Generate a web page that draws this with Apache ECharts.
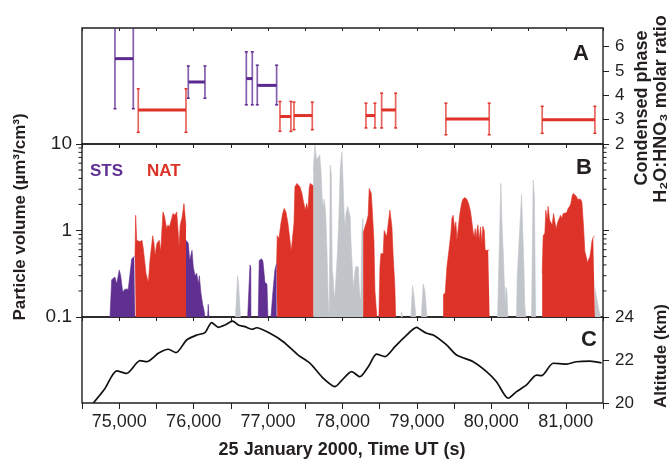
<!DOCTYPE html>
<html lang="en">
<head>
<meta charset="UTF-8">
<title>PSC particle volume, 25 January 2000</title>
<script src="https://cdn.jsdelivr.net/npm/echarts@6/dist/echarts.min.js"></script>
<style>
  html, body { margin: 0; padding: 0; background: #fff; }
  #chart { width: 672px; height: 459px; }
</style>
</head>
<body>
<div id="chart"></div>
<script>
// time axis (s UT)
const timeMin = 74500;
const timeMax = 81500;

// panel A: condensed phase H2O:HNO3 molar ratio
const ratioStart = [74943, 75256, 75928, 76708, 76855, 77160, 77348, 78315, 78526, 79389, 80683];
const ratioEnd   = [75189, 75897, 76152, 76788, 77115, 77307, 77594, 78436, 78714, 79971, 81391];
const ratioMid   = [5.51, 3.40, 4.55, 4.69, 4.41, 3.13, 3.17, 3.17, 3.40, 3.03, 3.00];
const ratioLow   = [3.45, 2.48, 3.88, 3.61, 3.61, 2.52, 2.59, 2.66, 2.66, 2.38, 2.44];
const ratioHigh  = [6.77, 4.27, 5.21, 5.79, 5.24, 3.75, 3.72, 3.68, 4.09, 3.68, 3.55];
const ratioPhase = ['STS', 'NAT', 'STS', 'STS', 'STS', 'NAT', 'NAT', 'NAT', 'NAT', 'NAT', 'NAT'];

// panel B: particle volume [time, um3/cm3], one list per contiguous stretch
const stsVolume = [
  [[74876,0.1],[74899,0.27],[74943,0.29],[74966,0.24],[75001,0.35],[75020,0.30],[75047,0.195],[75078,0.21],[75122,0.21],[75145,0.22],[75168,0.47],[75202,0.50],[75212,0.50]],
  [[75897,0.77],[75928,0.71],[75947,0.45],[75978,0.59],[75995,0.38],[76018,0.30],[76041,0.32],[76062,0.24],[76076,0.30],[76098,0.19],[76121,0.14],[76139,0.12],[76152,0.1]],
  [[76188,0.1],[76196,0.14],[76206,0.1]],
  [[76726,0.1],[76757,0.40],[76768,0.37],[76770,0.1]],
  [[76868,0.1],[76881,0.45],[76913,0.47],[76931,0.44],[76949,0.45],[76958,0.25],[76985,0.24],[76998,0.1]],
  [[77039,0.1],[77066,0.2],[77092,0.35],[77115,0.42]]
];
const natVolume = [
  [[75212,0.5],[75221,1.5],[75235,0.77],[75256,0.81],[75279,0.74],[75306,0.77],[75323,0.62],[75360,0.32],[75391,0.25],[75413,0.45],[75450,0.87],[75467,0.71],[75481,0.52],[75507,0.71],[75538,0.77],[75557,0.57],[75575,1.05],[75588,1.64],[75605,1.5],[75638,1.05],[75655,1.16],[75673,1.09],[75705,1.38],[75722,1.57],[75749,1.5],[75772,1.64],[75789,1.05],[75803,0.65],[75820,1.16],[75847,1.44],[75870,2.05],[75884,2.15],[75897,1.11]],
  [[77115,0.42],[77123,0.87],[77146,0.81],[77173,1.21],[77196,1.57],[77217,1.8],[77240,1.64],[77267,1.21],[77294,0.77],[77311,0.57],[77330,0.84],[77348,1.21],[77361,3.2],[77388,3.5],[77411,3.66],[77428,3.2],[77455,2.68],[77472,2.24],[77486,2.2],[77499,1.72],[77518,2.05],[77536,1.72],[77553,3.1],[77566,3.5],[77589,3.35],[77607,3.3]],
  [[78278,0.93],[78301,1.1],[78324,1.26],[78345,1.5],[78359,3.06],[78368,3.2],[78386,2.68],[78395,2.05],[78413,2.05],[78422,0.77],[78436,0.2],[78453,0.2],[78462,0.1]],
  [[78489,0.1],[78503,0.38],[78516,0.54],[78547,0.54],[78560,1.0],[78579,1.0],[78593,0.84],[78614,1.2],[78637,1.72],[78650,1.64],[78664,1.1],[78681,0.5],[78704,0.22],[78714,0.1]],
  [[79353,0.18],[79380,0.19],[79403,0.38],[79430,0.59],[79456,0.93],[79470,1.38],[79487,1.5],[79506,1.05],[79523,1.26],[79537,0.77],[79554,1.05],[79577,1.57],[79600,2.05],[79617,2.3],[79644,2.4],[79671,2.3],[79698,2.0],[79721,1.64],[79738,1.26],[79756,0.95],[79769,0.84],[79783,1.05],[79796,0.81],[79810,1.05],[79819,1.16],[79836,0.77],[79855,1.1],[79873,0.71],[79886,1.12],[79904,1.0],[79917,0.59],[79957,0.59],[79976,0.59]],
  [[80683,0.32],[80696,0.87],[80719,0.93],[80732,1.72],[80750,1.32],[80763,1.9],[80782,1.32],[80800,1.38],[80817,1.16],[80836,1.57],[80853,1.26],[80871,1.05],[80894,1.26],[80911,1.32],[80930,1.5],[80947,1.38],[80965,1.57],[80988,1.5],[81010,1.6],[81032,1.8],[81051,1.9],[81068,2.05],[81086,2.5],[81099,2.68],[81122,2.6],[81140,2.5],[81158,2.3],[81180,2.24],[81198,2.3],[81216,2.15],[81239,1.1],[81256,0.57],[81274,0.5],[81293,0.42],[81301,0.45],[81324,0.5],[81337,0.59],[81350,0.74],[81368,0.84],[81381,0.87],[81391,0.87]]
];
const otherVolume = [
  [[76562,0.1],[76591,0.30],[76602,0.25],[76629,0.1]],
  [[77607,5.0],[77630,9.7],[77652,6.5],[77670,6.8],[77693,7.5],[77710,5.0],[77728,2.3],[77741,1.9],[77755,2.3],[77773,1.64],[77791,0.59],[77808,0.16],[77822,0.1],[77829,0.1],[77835,5.7],[77849,4.6],[77862,0.35],[77876,0.27],[77889,0.16],[77902,0.2],[77934,0.59],[77952,1.5],[77969,5.0],[77992,8.1],[78005,4.2],[78023,1.44],[78037,1.1],[78046,1.57],[78069,1.9],[78086,1.9],[78104,1.44],[78113,0.77],[78131,0.38],[78144,0.22],[78163,0.22],[78176,0.38],[78194,0.39],[78211,0.38],[78225,0.22],[78238,0.16],[78247,0.17],[78261,1.0],[78274,1.38],[78278,1.1]],
  [[78785,0.1],[78794,0.115],[78805,0.1]],
  [[78919,0.1],[78942,0.23],[78959,0.18],[78986,0.1]],
  [[79060,0.1],[79084,0.24],[79107,0.2],[79134,0.1]],
  [[80083,0.1],[80128,3.5],[80141,1.32],[80159,0.57],[80172,0.55],[80186,0.13],[80195,0.22],[80209,0.2],[80222,0.1]],
  [[80338,0.1],[80347,0.29],[80360,0.29],[80374,0.8],[80387,0.8],[80406,2.6],[80423,2.5],[80437,0.38],[80450,0.13],[80464,0.1]],
  [[80540,0.1],[80562,3.83],[80578,2.5],[80594,0.1]],
  [[81391,0.22],[81418,0.16],[81445,0.12],[81467,0.1]]
];
const volumeMinorTicks = [0.2, 0.3, 0.4, 0.5, 0.6, 0.7, 0.8, 0.9, 2, 3, 4, 5, 6, 7, 8, 9];

// panel C: altitude (km)
const altTime = [74652, 74809, 74966, 75100, 75279, 75369, 75525, 75659, 75763, 75906, 76041, 76152, 76242, 76331, 76421, 76524, 76599, 76689, 76788, 76846, 77025, 77204, 77405, 77562, 77741, 77898, 77990, 78122, 78234, 78346, 78458, 78570, 78704, 78838, 78996, 79040, 79130, 79219, 79398, 79533, 79756, 79935, 80069, 80226, 80338, 80472, 80606, 80674, 80830, 81010, 81144, 81323, 81480];
const altKm   = [20.0, 20.68, 21.49, 21.38, 21.97, 21.92, 22.31, 22.5, 22.34, 22.93, 23.16, 23.27, 23.74, 23.52, 23.63, 23.81, 23.63, 23.55, 23.43, 23.5, 23.24, 22.85, 22.23, 21.85, 21.15, 20.76, 21.05, 21.46, 21.22, 21.69, 22.27, 22.16, 22.62, 23.08, 23.52, 23.43, 23.24, 23.16, 22.7, 22.23, 21.92, 21.46, 20.99, 20.22, 20.53, 20.84, 21.3, 21.27, 21.85, 21.81, 21.92, 21.95, 21.87];

const PURPLE = '#5f2f91';
const RED = '#dd3227';
const GRAY = '#c1c5ca';
const INK = '#231f20';
const FONT = '"Liberation Sans", Arial, "DejaVu Sans", sans-serif';

const chart = echarts.init(document.getElementById('chart'), null, { renderer: 'canvas' });

const gridLeft = 82, gridRight = 69;
const grids = [
  { left: gridLeft, right: gridRight, top: 28, height: 116 },
  { left: gridLeft, right: gridRight, top: 144, height: 173 },
  { left: gridLeft, right: gridRight, top: 317, height: 86 }
].map(g => Object.assign(g, { show: true, borderColor: INK, borderWidth: 1.4, containLabel: false }));

function timeAxis(gridIndex, extra) {
  return Object.assign({
    type: 'value', gridIndex: gridIndex, min: timeMin, max: timeMax, interval: 500,
    axisLine: { show: false },
    splitLine: { show: false },
    axisTick: { length: 4, lineStyle: { color: INK, width: 1 } },
    axisLabel: { show: false }
  }, extra || {});
}

function commaFmt(v) {
  if (v % 1000 !== 0 || v <= timeMin || v >= timeMax) return '';
  return String(v).replace(/\B(?=(\d{3})+(?!\d))/g, ',');
}

const xAxes = [
  timeAxis(0),
  timeAxis(0, { position: 'top', axisTick: { inside: true, length: 3, lineStyle: { color: INK } } }),
  timeAxis(1),
  timeAxis(2, {
    axisTick: { length: 6, lineStyle: { color: INK, width: 1 } },
    axisLabel: { show: true, formatter: commaFmt, fontSize: 18, fontFamily: FONT, color: INK, margin: 10 }
  })
];

const yAxes = [
  { type: 'value', gridIndex: 0, position: 'right', min: 2, max: 6.77, interval: 1,
    axisLine: { show: false }, splitLine: { show: false },
    axisTick: { length: 6, lineStyle: { color: INK } },
    axisLabel: { fontSize: 17, fontFamily: FONT, color: INK, margin: 12, showMaxLabel: false } },
  { type: 'log', gridIndex: 1, position: 'left', min: 0.1, max: 10, logBase: 10,
    axisLine: { show: false }, splitLine: { show: false },
    axisTick: { length: 6, lineStyle: { color: INK } },
    axisLabel: { fontSize: 19, fontFamily: FONT, color: INK, margin: 10 } },
  { type: 'log', gridIndex: 1, position: 'right', min: 0.1, max: 10, logBase: 10,
    axisLine: { show: false }, splitLine: { show: false },
    axisTick: { length: 6, lineStyle: { color: INK } },
    axisLabel: { show: false } },
  { type: 'value', gridIndex: 2, position: 'right', min: 20, max: 24, interval: 2,
    axisLine: { show: false }, splitLine: { show: false },
    axisTick: { length: 6, lineStyle: { color: INK } },
    axisLabel: { fontSize: 17, fontFamily: FONT, color: INK, margin: 12 } }
];

// error bars for panel A
const ratioData = ratioStart.map((s, i) => [s, ratioEnd[i], ratioMid[i], ratioLow[i], ratioHigh[i]]);

function renderRatio(params, api) {
  const i = params.dataIndex;
  const col = ratioPhase[i] === 'STS' ? '#5b2a90' : '#df3128';
  const light = ratioPhase[i] === 'STS' ? 'rgba(91,42,144,0.75)' : 'rgba(223,49,40,0.75)';
  const s = api.value(0), e = api.value(1), m = api.value(2), lo = api.value(3), hi = api.value(4);
  const a = api.coord([s, m]), b = api.coord([e, m]);
  const parts = [];
  [s, e].forEach(t => {
    const pLo = api.coord([t, lo]), pHi = api.coord([t, hi]);
    parts.push({ type: 'line', shape: { x1: pLo[0], y1: pLo[1], x2: pHi[0], y2: pHi[1] },
      style: { stroke: light, lineWidth: 1.7 } });
    parts.push({ type: 'line', shape: { x1: pLo[0] - 1.5, y1: pLo[1], x2: pLo[0] + 1.5, y2: pLo[1] },
      style: { stroke: col, lineWidth: 1.5 } });
    if (hi < 6.7) {
      parts.push({ type: 'line', shape: { x1: pHi[0] - 1.5, y1: pHi[1], x2: pHi[0] + 1.5, y2: pHi[1] },
        style: { stroke: col, lineWidth: 1.5 } });
    }
  });
  parts.push({ type: 'line', shape: { x1: a[0], y1: a[1], x2: b[0], y2: b[1] },
    style: { stroke: col, lineWidth: 3 } });
  return { type: 'group', children: parts };
}

// minor ticks for the log axis, both sides
function renderMinor(params, api) {
  const cs = params.coordSys;
  const y = api.coord([timeMin, api.value(0)])[1];
  return { type: 'group', children: [
    { type: 'line', shape: { x1: cs.x - 3.5, y1: y, x2: cs.x, y2: y }, style: { stroke: INK, lineWidth: 1 } },
    { type: 'line', shape: { x1: cs.x + cs.width, y1: y, x2: cs.x + cs.width + 3.5, y2: y }, style: { stroke: INK, lineWidth: 1 } }
  ] };
}

function areaSeries(segments, color) {
  return segments.map(seg => ({
    type: 'line', xAxisIndex: 2, yAxisIndex: 1, data: seg,
    symbol: 'none', silent: true, animation: false,
    lineStyle: { width: 0.6, color: color },
    areaStyle: { color: color, opacity: 1, origin: 'start' }
  }));
}

const series = [
  { type: 'custom', xAxisIndex: 0, yAxisIndex: 0, data: ratioData, renderItem: renderRatio,
    silent: true, animation: false, clip: true },
  ...areaSeries(otherVolume, GRAY),
  ...areaSeries(stsVolume, PURPLE),
  ...areaSeries(natVolume, RED),
  { type: 'custom', xAxisIndex: 2, yAxisIndex: 1, data: volumeMinorTicks.map(v => [v]),
    encode: { y: 0 }, renderItem: renderMinor, silent: true, animation: false, clip: false },
  { type: 'line', xAxisIndex: 3, yAxisIndex: 3, data: altTime.map((t, i) => [t, altKm[i]]),
    symbol: 'none', smooth: 0.25, silent: true, animation: false,
    lineStyle: { color: '#111', width: 1.7 } }
];

function label(text, x, y, size, color, rot, weight) {
  return {
    type: 'text', x: x, y: y, rotation: rot || 0, silent: true, z: 100,
    style: { text: text, fill: color || INK, font: (weight || 'bold') + ' ' + size + 'px ' + FONT,
      textAlign: 'center', textVerticalAlign: 'middle' }
  };
}

const option = {
  backgroundColor: '#fff',
  animation: false,
  grid: grids,
  xAxis: xAxes,
  yAxis: yAxes,
  series: series,
  graphic: [
    label('Particle volume (\u00b5m\u00b3/cm\u00b3)', 20, 217, 17, INK, Math.PI / 2),
    label('Condensed phase', 642, 108, 18, INK, Math.PI / 2),
    label('H\u2082O:HNO\u2083 molar ratio', 661, 109, 18, INK, Math.PI / 2),
    label('Altitude (km)', 661, 356, 17, INK, Math.PI / 2),
    label('25 January 2000, Time UT (s)', 342, 450, 18, INK, 0),
    label('A', 581, 54, 22, INK, 0),
    label('B', 584, 168, 22, INK, 0),
    label('C', 589, 340, 22, INK, 0),
    { type: 'text', x: 90, y: 171, silent: true, z: 100,
      style: { text: 'STS', fill: PURPLE, font: 'bold 17px ' + FONT, textAlign: 'left', textVerticalAlign: 'middle' } },
    { type: 'text', x: 147, y: 171, silent: true, z: 100,
      style: { text: 'NAT', fill: RED, font: 'bold 17px ' + FONT, textAlign: 'left', textVerticalAlign: 'middle' } }
  ]
};

chart.setOption(option);
window.addEventListener('resize', function () { chart.resize(); });
</script>
</body>
</html>
